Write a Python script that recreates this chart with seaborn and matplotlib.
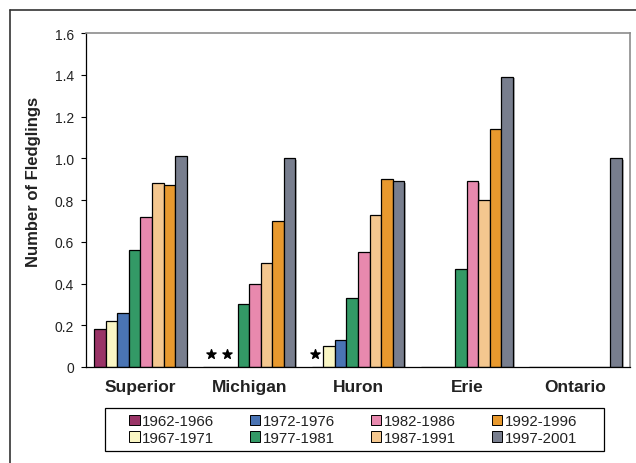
import pandas as pd
import seaborn as sns
import matplotlib.pyplot as plt
import matplotlib.patheffects as pe
from matplotlib.lines import Line2D
from matplotlib.patches import Rectangle
from matplotlib.ticker import FuncFormatter, FixedLocator

lakes = ['Superior', 'Michigan', 'Huron', 'Erie', 'Ontario']
periods = ['1962-1966', '1967-1971', '1972-1976', '1977-1981',
           '1982-1986', '1987-1991', '1992-1996', '1997-2001']
colors = ['#993366', '#FAF6C4', '#4A74B4', '#339966',
          '#E889AE', '#F4C78F', '#E8992E', '#787E8E']

# fledglings per lake, one list per period (0 = no bar)
superior = [0.18, 0.22, 0.26, 0.56, 0.72, 0.88, 0.87, 1.01]
michigan = [0, 0, 0, 0.30, 0.40, 0.50, 0.70, 1.00]
huron = [0, 0.10, 0.13, 0.33, 0.55, 0.73, 0.90, 0.89]
erie = [0, 0, 0, 0.47, 0.89, 0.80, 1.14, 1.39]
ontario = [0, 0, 0, 0, 0, 0, 0, 1.00]

# asterisks (insufficient data), slot offset inside each lake group
star_lakes = ['Michigan', 'Michigan', 'Huron']
star_slots = [0.2, 1.55, -0.2]

rows = []
for lake, vals in zip(lakes, [superior, michigan, huron, erie, ontario]):
    for p, v in zip(periods, vals):
        rows.append({'lake': lake, 'period': p, 'value': v})
df = pd.DataFrame(rows)

sns.set_style('white')
plt.rcParams['font.family'] = ['Liberation Sans', 'DejaVu Sans']

fig = plt.figure(figsize=(6.36, 4.64), dpi=100)
ax = fig.add_axes([0.1352, 0.2069, 0.8554, 0.7198])

sns.barplot(data=df, x='lake', y='value', hue='period', order=lakes,
            hue_order=periods, palette=colors, edgecolor='black',
            linewidth=0.9, width=0.85, ax=ax, legend=False, saturation=1)

for bar in ax.patches:
    bar.set_path_effects([pe.SimplePatchShadow(offset=(1.2, -1), alpha=0.35), pe.Normal()])

# stars
bw = ax.containers[0][0].get_width()
sx = []
for lake, slot in zip(star_lakes, star_slots):
    i = lakes.index(lake)
    sx.append(i - 3.5 * bw + slot * bw)
ax.scatter(sx, [0.062] * len(sx), marker='*', s=48, color='black', zorder=5)

ax.set_ylim(0, 1.6)
ax.set_xlim(-0.5, 4.5)
ax.yaxis.set_major_locator(FixedLocator([0, 0.2, 0.4, 0.6, 0.8, 1.0, 1.2, 1.4, 1.6]))
ax.yaxis.set_major_formatter(FuncFormatter(lambda v, p: '0' if v == 0 else '%.1f' % v))
ax.set_xticks(range(len(lakes)))
ax.set_xticklabels(lakes, fontsize=12.5, fontweight='bold')
ax.set_xticks([-0.5, 0.5, 1.5, 2.5, 3.5, 4.5], minor=True)
ax.tick_params(axis='x', which='major', length=0, pad=8.5, colors='#222222')
ax.tick_params(axis='x', which='minor', length=4, width=0.8, color='black', direction='out')
ax.tick_params(axis='y', length=3.5, width=0.8, color='black', direction='out',
               labelsize=10, pad=5, left=True, labelcolor='#222222')
ax.set_xlabel('')
ax.set_ylabel('Number of Fledglings', fontsize=12, fontweight='bold', color='#222222')
ax.yaxis.set_label_coords(-0.083, 0.557)

for s in ['left', 'bottom']:
    ax.spines[s].set_color('black')
    ax.spines[s].set_linewidth(0.9)
for s in ['top', 'right']:
    ax.spines[s].set_color('#8C8C8C')
    ax.spines[s].set_linewidth(1.2)

handles = [plt.Rectangle((0, 0), 1, 1, facecolor=c, edgecolor='black', linewidth=0.7)
           for c in colors]
leg = fig.legend(handles, periods, ncol=4, loc='center',
                 bbox_to_anchor=(0.555, 0.0722), fontsize=10.8, frameon=False,
                 handlelength=0.7, handleheight=0.7, handletextpad=0.15,
                 columnspacing=2.4, labelspacing=0.15, borderpad=0.35,
                 borderaxespad=0)
for t in leg.get_texts():
    t.set_color('#222222')

# legend box, wider than the entries
fig.add_artist(Rectangle((105 / 636, 1 - 452 / 464), 499 / 636, 43 / 464,
                         transform=fig.transFigure, fill=False,
                         edgecolor='black', linewidth=0.9))

# outer border (cut off on right and bottom)
fig.add_artist(Line2D([10 / 636, 10 / 636], [0, 1 - 11 / 464], color='#333333', lw=1.2))
fig.add_artist(Line2D([10 / 636, 1], [1 - 11 / 464, 1 - 11 / 464], color='#333333', lw=1.2))

fig.savefig('out.png', dpi=100)
